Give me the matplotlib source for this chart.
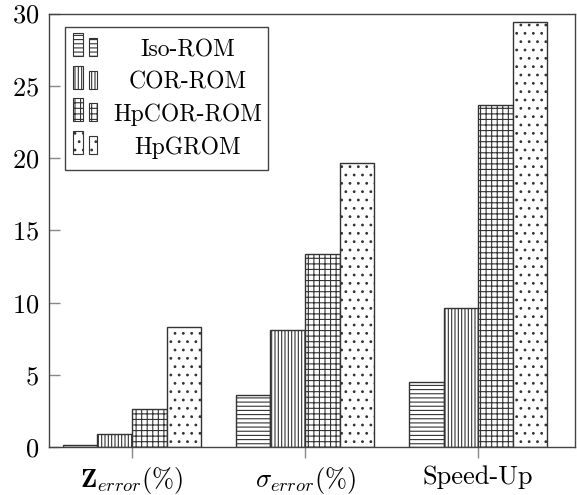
import matplotlib
matplotlib.use("Agg")
import matplotlib.pyplot as plt
import numpy as np
from matplotlib.patches import Rectangle

plt.rcParams['font.family'] = 'serif'
plt.rcParams['font.serif'] = ['cmr10']
plt.rcParams['mathtext.fontset'] = 'cm'
plt.rcParams['axes.formatter.use_mathtext'] = True
plt.rcParams['hatch.linewidth'] = 0.8

categories = [r'$\mathbf{Z}_{error}(\%)$', r'$\sigma_{error}(\%)$', 'Speed-Up']
series_names = ['Iso-ROM', 'COR-ROM', 'HpCOR-ROM', 'HpGROM']
iso_rom = [0.15, 3.6, 4.5]
cor_rom = [0.9, 8.1, 9.65]
hpcor_rom = [2.65, 13.4, 23.7]
hpgrom = [8.35, 19.65, 29.4]
series_values = [iso_rom, cor_rom, hpcor_rom, hpgrom]
y_ticks = [0, 5, 10, 15, 20, 25, 30]

hatches = ['----', '|||||', '+++', '..']
edge = '#333333'
hcol = '#444444'


def hatched_kw(h):
    return dict(facecolor='white', edgecolor=edge, hatch=h, hatchcolor=hcol)


try:
    Rectangle((0, 0), 1, 1, **hatched_kw('-'))
    HAS_HC = True
except Exception:
    HAS_HC = False


def kw(h):
    d = hatched_kw(h)
    if not HAS_HC:
        d.pop('hatchcolor')
    return d


fig = plt.figure(figsize=(5.77, 4.95), dpi=100)
ax = fig.add_axes([49/577, (495-447.3)/495, 526/577, 433.8/495])

x = np.arange(len(categories))
width = 0.2
for i, (name, vals) in enumerate(zip(series_names, series_values)):
    ax.bar(x + (i - 1.5) * width, vals, width, linewidth=1.0, label=name,
           **kw(hatches[i]))

ax.set_xlim(-0.48, 2.56)
ax.set_ylim(0, 30)
ax.set_yticks(y_ticks)
ax.set_xticks(x)
ax.set_xticklabels(categories)
ax.tick_params(axis='y', direction='in', length=8, width=1, color='#888888',
               pad=7, labelsize=19)
ax.tick_params(axis='x', direction='out', length=8, width=1, color='#888888',
               pad=5, labelsize=19)
for s in ax.spines.values():
    s.set_color('#444444')
    s.set_linewidth(1.0)

# legend drawn in axes coordinates (pgfplots style: two small bars per entry)
def axx(px):
    return (px - 49) / 526.0

def axy(py):
    return (447.3 - py) / 433.8

frame = Rectangle((axx(65), axy(170)), axx(268) - axx(65), axy(27) - axy(170),
                  transform=ax.transAxes, facecolor='white', edgecolor='#444444',
                  linewidth=1.0, zorder=5)
ax.add_patch(frame)
baselines = [56, 88.5, 121, 154]
for i, name in enumerate(series_names):
    b = baselines[i]
    ax.add_patch(Rectangle((axx(73), axy(b)), axx(83) - axx(73), axy(b - 23) - axy(b),
                           transform=ax.transAxes, linewidth=0.8, zorder=6,
                           **kw(hatches[i])))
    ax.add_patch(Rectangle((axx(89), axy(b)), axx(97) - axx(89), axy(b - 18) - axy(b),
                           transform=ax.transAxes, linewidth=0.8, zorder=6,
                           **kw(hatches[i])))
    ax.text(axx(187.5), axy(b), name, transform=ax.transAxes, ha='center',
            va='baseline', fontsize=17, zorder=7)

fig.savefig('out.png', dpi=100)
